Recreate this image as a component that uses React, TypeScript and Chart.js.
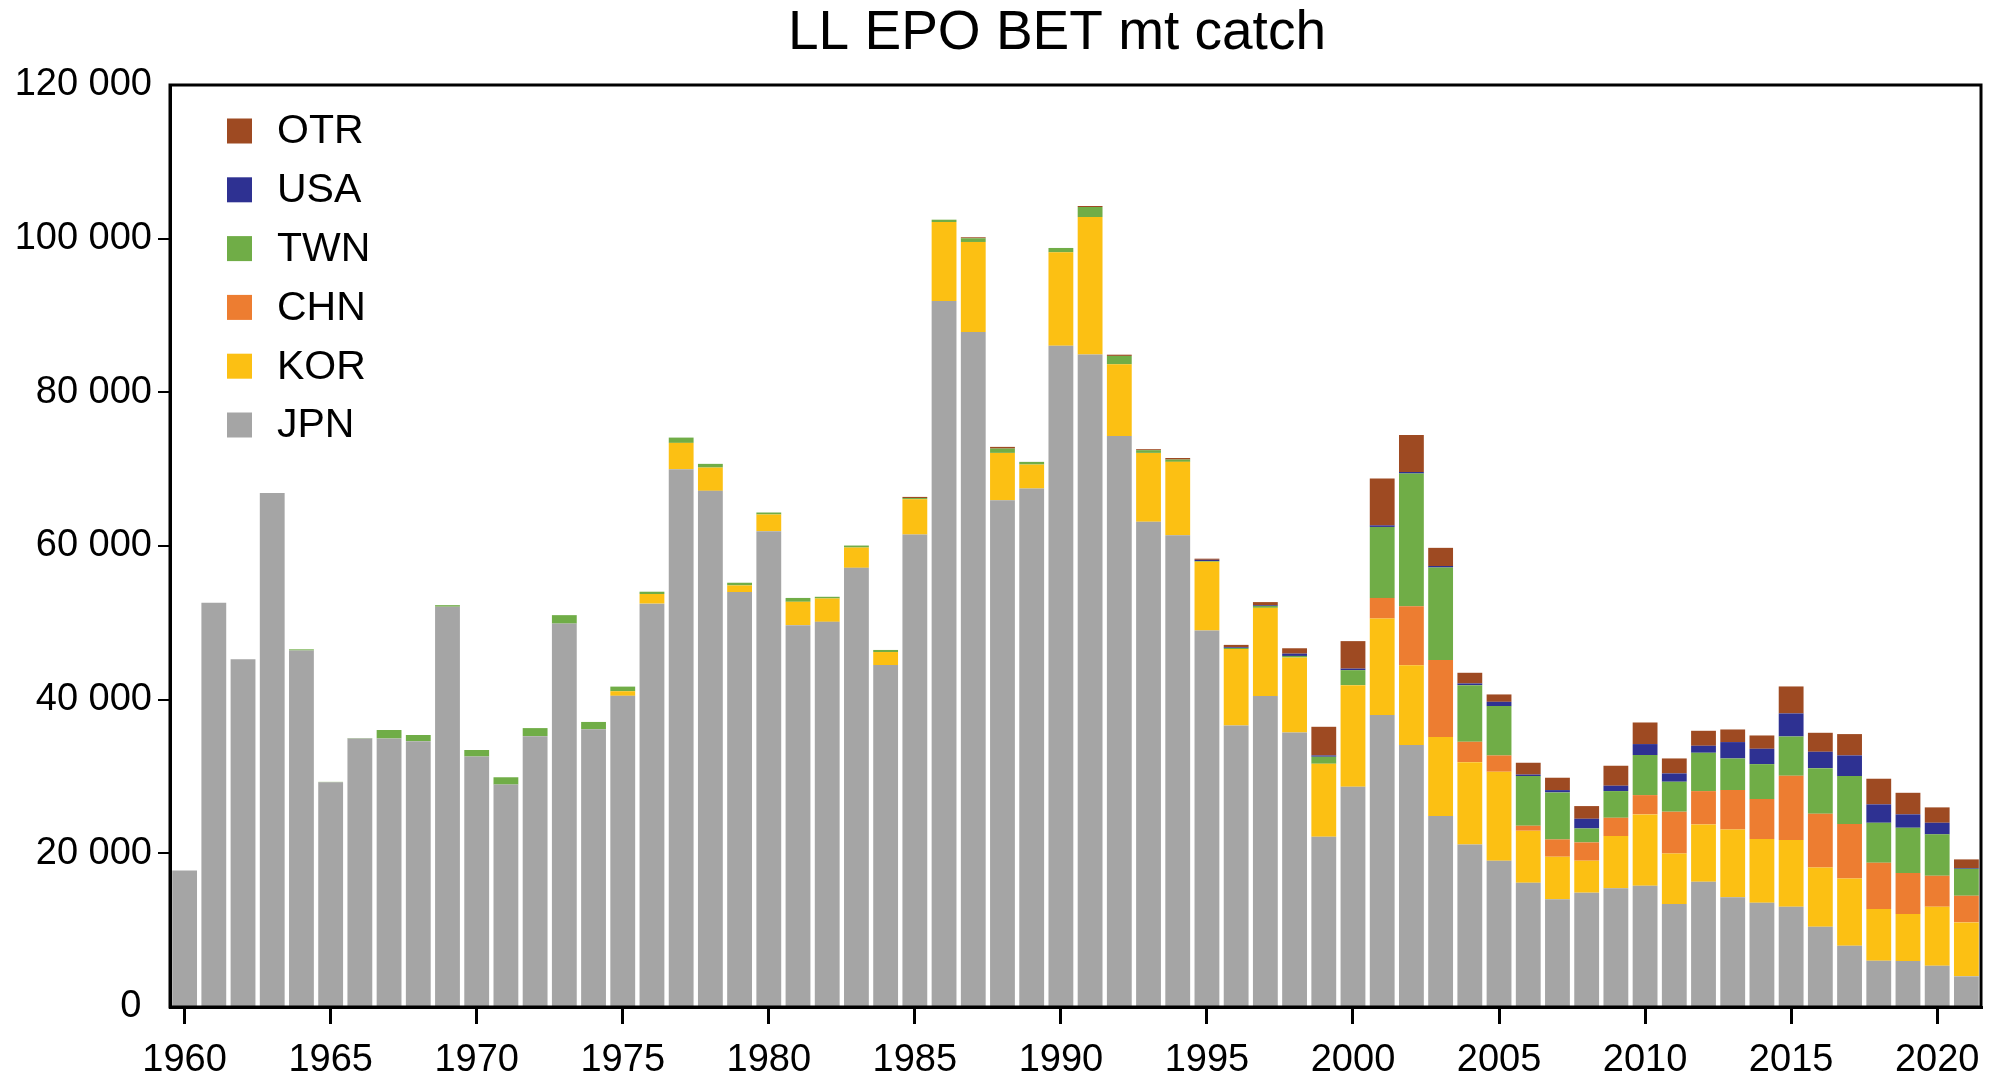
import React, { useEffect, useRef } from "react";
import { Chart, registerables } from "chart.js";

Chart.register(...registerables);

const years = [
  1960, 1961, 1962, 1963, 1964, 1965, 1966, 1967, 1968, 1969,
  1970, 1971, 1972, 1973, 1974, 1975, 1976, 1977, 1978, 1979,
  1980, 1981, 1982, 1983, 1984, 1985, 1986, 1987, 1988, 1989,
  1990, 1991, 1992, 1993, 1994, 1995, 1996, 1997, 1998, 1999,
  2000, 2001, 2002, 2003, 2004, 2005, 2006, 2007, 2008, 2009,
  2010, 2011, 2012, 2013, 2014, 2015, 2016, 2017, 2018, 2019,
  2020, 2021,
];

const jpn = [
  17750, 52600, 45250, 66900, 46400, 29250, 34950, 34950, 34600, 52100,
  32600, 28950, 35250, 49900, 36150, 40500, 52500, 70000, 67180, 54000,
  61930, 49700, 50130, 57160, 44500, 61490, 91900, 87860, 65960, 67480,
  86060, 84930, 74330, 63140, 61410, 49000, 36640, 40480, 35730, 22160,
  28670, 37990, 34090, 24850, 21160, 19040, 16170, 14010, 14880, 15440,
  15790, 13400, 16310, 14270, 13570, 13050, 10450, 7980, 6030, 5980,
  5380, 3990,
];

const kor = [
  0, 0, 0, 0, 0, 0, 0, 0, 0, 0,
  0, 0, 0, 0, 0, 600, 1250, 3420, 3030, 870,
  2170, 3040, 3040, 2640, 1700, 4600, 10270, 11710, 6160, 3120,
  12170, 17890, 9320, 8980, 9540, 8950, 9940, 11470, 9760, 9500,
  13220, 12570, 10400, 10280, 10710, 11580, 6770, 5550, 4160, 6810,
  9280, 6590, 7450, 8840, 8290, 8680, 7720, 8760, 6720, 6120,
  7670, 7020,
];

const chn = [
  0, 0, 0, 0, 0, 0, 0, 0, 0, 0,
  0, 0, 0, 0, 0, 0, 0, 0, 0, 0,
  0, 0, 0, 0, 0, 0, 0, 0, 0, 0,
  0, 0, 0, 0, 0, 0, 0, 0, 0, 0,
  0, 2680, 7680, 10020, 2650, 2120, 650, 2250, 2380, 2380,
  2510, 5430, 4340, 5120, 5200, 8370, 6980, 7070, 6030, 5330,
  4030, 3470,
];

const twn = [
  0, 0, 0, 0, 150, 50, 50, 1100, 800, 200,
  850, 950, 1050, 1100, 950, 600, 300, 690, 480, 350,
  260, 500, 220, 260, 270, 150, 300, 480, 560, 350,
  560, 1300, 1090, 350, 300, 100, 150, 250, 200, 910,
  1950, 9240, 17260, 12050, 7370, 6420, 6460, 6120, 1820, 3470,
  5210, 3900, 4990, 4120, 4550, 5110, 5940, 6240, 5200, 5900,
  5390, 3510,
];

const usa = [
  0, 0, 0, 0, 0, 0, 0, 0, 0, 0,
  0, 0, 0, 0, 0, 0, 0, 0, 0, 0,
  0, 0, 0, 0, 0, 0, 0, 0, 0, 0,
  0, 0, 0, 0, 0, 150, 100, 100, 300, 170,
  200, 200, 200, 200, 220, 560, 200, 300, 1260, 700,
  1430, 1080, 910, 2130, 2000, 3000, 2130, 2690, 2390, 1740,
  1510, 100,
];

const otr = [
  0, 0, 0, 0, 0, 0, 0, 0, 0, 0,
  0, 0, 0, 0, 0, 0, 0, 0, 0, 0,
  0, 0, 0, 0, 0, 150, 0, 130, 220, 0,
  0, 130, 160, 130, 200, 150, 300, 400, 700, 3730,
  3580, 6090, 4830, 2360, 1390, 960, 1540, 1610, 1650, 2600,
  2810, 1950, 1950, 1640, 1730, 3510, 2470, 2780, 3340, 2810,
  2000, 1120,
];

const seriesNames = ["JPN", "KOR", "CHN", "TWN", "USA", "OTR"];
const seriesColors = ["#A5A5A5", "#FCC013", "#ED7D31", "#70AD47", "#2E3192", "#9E4A22"];
const yTicks = [0, 20000, 40000, 60000, 80000, 100000, 120000];
const chartTitle = "LL EPO BET mt catch";

const FONT = "'Liberation Sans', Arial, sans-serif";

const fmt = (v: number) => (v === 0 ? "0 " : String(v).replace(/\B(?=(\d{3})+(?!\d))/g, " "));

const framePlugin = {
  id: "framePlugin",
  afterDraw(chart: any) {
    const { ctx, chartArea } = chart;
    ctx.save();
    // frame
    ctx.strokeStyle = "#000";
    ctx.lineWidth = 3;
    ctx.strokeRect(chartArea.left, chartArea.top, chartArea.right - chartArea.left, chartArea.bottom - chartArea.top);
    // title
    ctx.fillStyle = "#000";
    ctx.font = `55px ${FONT}`;
    ctx.textAlign = "center";
    ctx.textBaseline = "middle";
    ctx.fillText(chartTitle, 1057, 34);
    // legend (reverse order)
    const ds = chart.data.datasets;
    ctx.font = `41px ${FONT}`;
    ctx.textAlign = "left";
    const x0 = chartArea.left + 57;
    const y0 = chartArea.top + 46;
    const step = 58.8;
    for (let i = ds.length - 1, r = 0; i >= 0; i--, r++) {
      const cy = y0 + r * step;
      ctx.fillStyle = ds[i].backgroundColor;
      ctx.fillRect(x0, cy - 12.5, 25, 25);
      ctx.fillStyle = "#000";
      ctx.fillText(ds[i].label, x0 + 50, cy + 1);
    }
    ctx.restore();
  },
};

export default function App() {
  const canvasRef = useRef<HTMLCanvasElement | null>(null);

  useEffect(() => {
    const canvas = canvasRef.current;
    if (!canvas) return;
    const dataArrays = [jpn, kor, chn, twn, usa, otr];
    const chart = new Chart(canvas, {
      type: "bar",
      data: {
        labels: years.map(String),
        datasets: dataArrays.map((d, i) => ({
          label: seriesNames[i],
          data: d,
          backgroundColor: seriesColors[i],
          borderWidth: 0,
          barPercentage: 0.85,
          categoryPercentage: 1,
        })),
      },
      options: {
        responsive: false,
        animation: false,
        events: [],
        layout: { padding: { left: 0, right: 19, top: 85, bottom: 0 } },
        plugins: {
          legend: { display: false },
          title: { display: false },
          tooltip: { enabled: false },
        },
        scales: {
          x: {
            stacked: true,
            offset: true,
            afterFit: (scale: any) => {
              scale.height = 71;
            },
            grid: {
              offset: false,
              drawOnChartArea: false,
              drawTicks: true,
              tickLength: 17,
              lineWidth: 3,
              color: (c: any) => (years[c.index] % 5 === 0 ? "#000" : "rgba(0,0,0,0)"),
            },
            border: { display: true, color: "#000", width: 3 },
            ticks: {
              autoSkip: false,
              maxRotation: 0,
              minRotation: 0,
              padding: 14,
              color: "#000",
              font: { family: FONT, size: 38 },
              callback: (_v: any, i: number) => (years[i] % 5 === 0 ? String(years[i]) : ""),
            },
          },
          y: {
            stacked: true,
            min: yTicks[0],
            max: yTicks[yTicks.length - 1],
            afterFit: (scale: any) => {
              scale.width = 170;
            },
            afterBuildTicks: (scale: any) => {
              scale.ticks = yTicks.map((v) => ({ value: v }));
            },
            grid: {
              drawOnChartArea: false,
              drawTicks: true,
              tickLength: 12,
              lineWidth: 2,
              color: (c: any) =>
                c.tick && (c.tick.value === yTicks[0] || c.tick.value === yTicks[yTicks.length - 1])
                  ? "rgba(0,0,0,0)"
                  : "#000",
            },
            border: { display: true, color: "#000", width: 3 },
            ticks: {
              padding: 6,
              color: "#000",
              font: { family: FONT, size: 38 },
              callback: (v: any) => fmt(Number(v)),
            },
          },
        },
      },
      plugins: [framePlugin],
    });
    return () => chart.destroy();
  }, []);

  return (
    <div style={{ position: "fixed", left: 0, top: 0, width: 2000, height: 1078, background: "#fff" }}>
      <canvas ref={canvasRef} width={2000} height={1078} style={{ width: 2000, height: 1078, display: "block" }} />
    </div>
  );
}
